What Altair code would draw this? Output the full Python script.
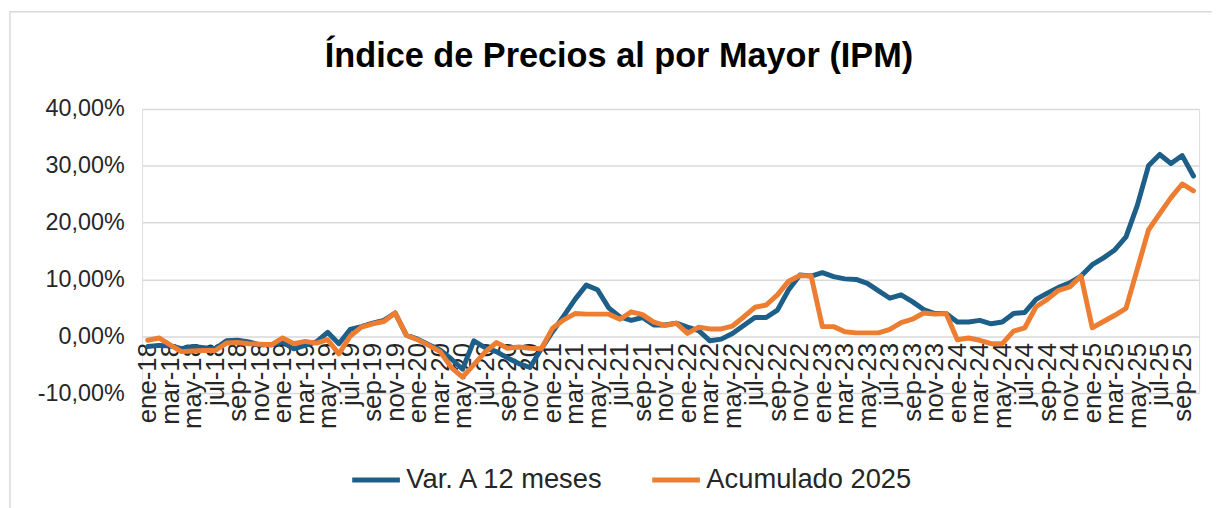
import altair as alt
import pandas as pd

MESES = ["ene", "feb", "mar", "abr", "may", "jun", "jul", "ago", "sep", "oct", "nov", "dic"]
ANIOS = ["18", "19", "20", "21", "22", "23", "24", "25"]
periodos = [f"{m}-{a}" for a in ANIOS for m in MESES][:94]

# Var. A 12 meses (%), ene-18 .. oct-25
var_12_meses = [
    -1.8, -1.6, -1.7, -2.2, -1.8, -2.0, -2.2, -0.8, -0.7, -1.0, -1.5, -1.5,   # 2018
    -1.0, -2.2, -1.6, -1.0, 0.7, -1.3, 1.2, 1.7, 2.3, 2.8, 4.1, 0.2,          # 2019
    -0.5, -1.5, -2.4, -4.0, -5.8, -0.8, -2.0, -2.7, -3.8, -4.8, -5.5, -2.2,   # 2020
    0.8, 3.6, 6.5, 9.0, 8.2, 5.0, 3.4, 2.8, 3.3, 2.0, 2.0, 2.3,               # 2021
    1.6, 1.0, -0.8, -0.5, 0.5, 1.9, 3.3, 3.3, 4.6, 8.2, 10.8, 10.6,           # 2022
    11.2, 10.5, 10.1, 10.0, 9.3, 8.0, 6.7, 7.3, 6.1, 4.7, 4.0, 4.0,           # 2023
    2.5, 2.5, 2.8, 2.2, 2.5, 4.0, 4.2, 6.5, 7.6, 8.6, 9.4, 10.6,              # 2024
    12.6, 13.8, 15.2, 17.5, 23.0, 30.0, 32.0, 30.4, 31.8, 28.2,               # 2025
]

# Acumulado (%), ene-18 .. oct-25
acumulado = [
    -0.7, -0.3, -1.5, -2.7, -2.6, -2.5, -2.5, -1.2, -1.1, -1.3, -1.4, -1.5,   # 2018
    -0.3, -1.3, -0.9, -1.2, -0.6, -3.1, 0.0, 1.6, 2.2, 2.6, 4.1, 0.2,         # 2019
    -0.6, -1.6, -2.7, -5.5, -7.2, -5.0, -2.8, -1.1, -2.1, -1.9, -2.1, -2.2,   # 2020
    1.4, 2.9, 4.0, 3.9, 3.9, 3.9, 3.0, 4.3, 3.8, 2.5, 1.9, 2.3,               # 2021
    0.5, 1.6, 1.3, 1.3, 1.8, 3.4, 5.1, 5.5, 7.3, 9.7, 10.7, 10.6,             # 2022
    1.7, 1.7, 0.8, 0.6, 0.6, 0.6, 1.2, 2.4, 3.0, 4.1, 3.9, 4.0,               # 2023
    -0.6, -0.3, -0.7, -1.3, -1.3, 0.9, 1.5, 5.2, 6.5, 8.1, 8.7, 10.6,         # 2024
    1.5, 2.6, 3.7, 4.9, 11.8, 18.7, 21.6, 24.4, 26.8, 25.6,                   # 2025
]

SERIES = ["Var. A 12 meses", "Acumulado 2025"]
COLORES = ["#1d5f88", "#ed7d31"]
Y_TICKS = [-10, 0, 10, 20, 30, 40]
TITULO = "Índice de Precios al por Mayor (IPM)"

FONT = "Liberation Sans, Arial, sans-serif"

df = pd.concat([
    pd.DataFrame({"periodo": periodos, "valor": var_12_meses, "serie": SERIES[0]}),
    pd.DataFrame({"periodo": periodos, "valor": acumulado, "serie": SERIES[1]}),
])

x_enc = alt.X(
    "periodo:O",
    sort=periodos,
    scale=alt.Scale(type="point", padding=0.5),
    axis=alt.Axis(
        values=periodos[::2], labelAngle=-90, labelAlign="right", labelBaseline="middle",
        offset=-57, domain=False, ticks=False, grid=False, title=None,
        labelFont=FONT, labelFontSize=26, labelColor="#262626", labelPadding=6,
        labelOverlap=False,
    ),
)
y_enc = alt.Y(
    "valor:Q",
    scale=alt.Scale(domain=[-10, 40], nice=False),
    axis=alt.Axis(
        values=Y_TICKS, title=None, domain=False, ticks=False,
        gridColor="#d9d9d9", gridWidth=1.5,
        labelExpr="(datum.value < 0 ? '-' : '') + replace(format(abs(datum.value), '.2f'), '.', ',') + '%'",
        labelFont=FONT, labelFontSize=23.5, labelColor="#262626", labelPadding=18,
    ),
)
color_enc = alt.Color(
    "serie:N",
    scale=alt.Scale(domain=SERIES, range=COLORES),
    legend=alt.Legend(
        title=None, orient="none", legendX=209, legendY=347, direction="horizontal",
        symbolType="stroke", symbolSize=2304, symbolStrokeWidth=5,
        labelFont=FONT, labelFontSize=27.5, labelColor="#262626", labelLimit=400,
        columnPadding=37, labelOffset=4,
    ),
)

base = alt.Chart(df).encode(x=x_enc, y=y_enc, color=color_enc)
linea_var = base.transform_filter(alt.datum.serie == SERIES[0]).mark_line(
    strokeWidth=5, strokeJoin="round", strokeCap="round")
linea_acu = base.transform_filter(alt.datum.serie == SERIES[1]).mark_line(
    strokeWidth=5, strokeJoin="round", strokeCap="round")

marco = alt.Chart(alt.Data(values=[{}])).mark_rect(
    filled=False, stroke="#d9d9d9", strokeWidth=1.5, clip=False
).encode(x=alt.value(-133), x2=alt.value(1200), y=alt.value(-98), y2=alt.value(500))

titulo = alt.Chart(alt.Data(values=[{}])).mark_text(
    font=FONT, fontSize=34.5, fontWeight="bold", color="#000000",
    align="center", baseline="alphabetic", clip=False,
).encode(text=alt.value(TITULO), x=alt.value(480), y=alt.value(-42))

chart = alt.layer(marco, titulo, linea_var, linea_acu).properties(
    width=1064,
    height=286,
    autosize=alt.AutoSizeParams(type="none"),
    padding={"left": 135, "top": 100, "right": 13, "bottom": 114},
).configure_view(strokeWidth=0).configure(background="white")

chart.save("out.html", embed_options={"renderer": "svg", "actions": False})
